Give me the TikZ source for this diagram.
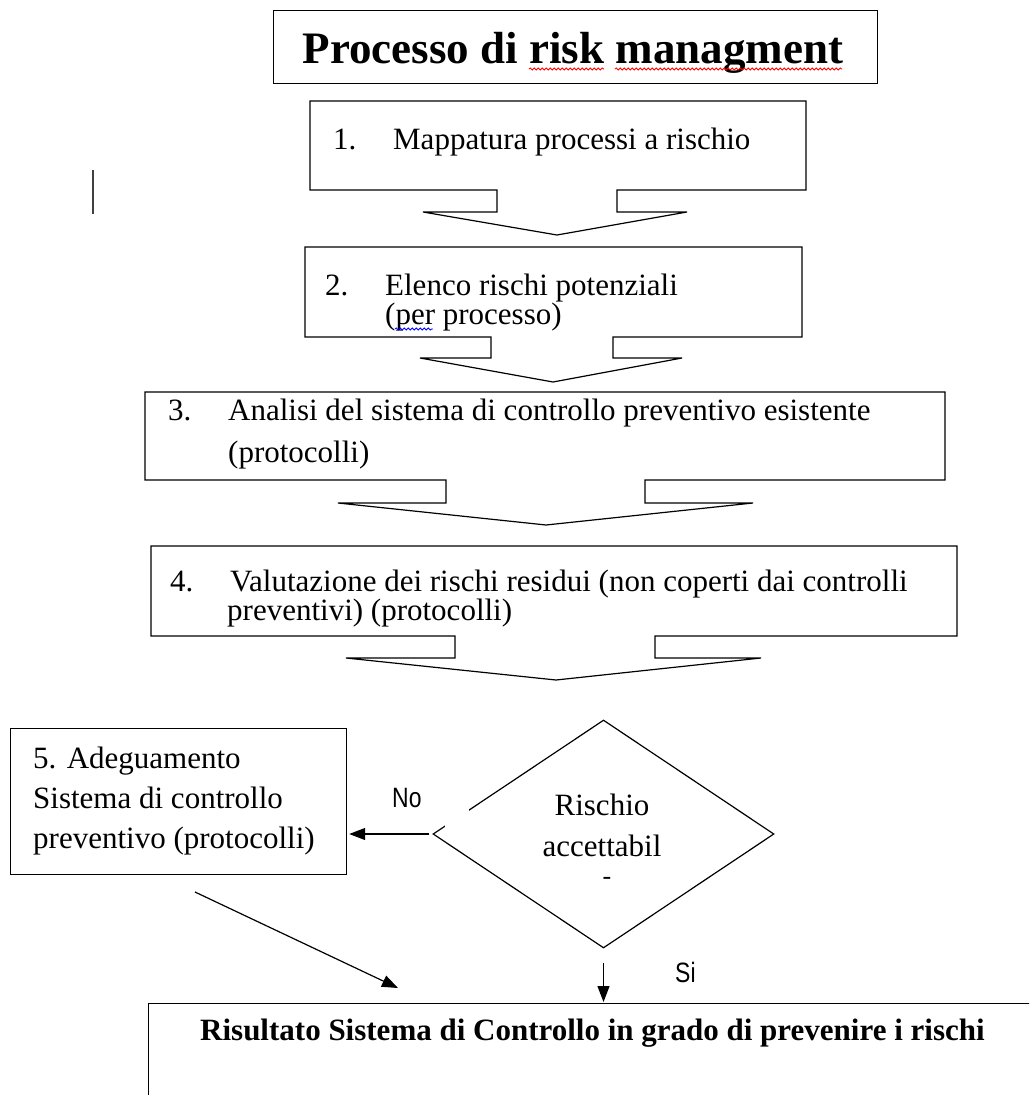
\documentclass[tikz,border=0pt]{standalone}
\usepackage{fontspec}
\setmainfont{Liberation Serif}
\setsansfont{Liberation Sans}
\usepackage{graphicx}
\usetikzlibrary{shapes.geometric,arrows.meta,decorations.pathmorphing}
\newcommand{\threeline}[4]{\vtop{\baselineskip=#1pt\hbox{#2}\hbox{#3}\hbox{#4}}}
\newcommand{\num}[1]{\makebox[60pt][l]{#1}}
\begin{document}
\begin{tikzpicture}[x=1pt,y=-1pt,
  every node/.style={font=\fontsize{31}{37}\selectfont, inner sep=0pt},
  shp/.style={draw, line width=1.2pt, line join=miter},
  arr/.style={line width=1.2pt, -{Triangle[length=16pt,width=12pt]}},
  txt/.style={anchor=base west},
  lab/.style={anchor=base west, font=\fontsize{28}{32}\selectfont\sffamily},
  squig/.style={line width=0.8pt, decorate, decoration={snake, amplitude=1.1pt, segment length=4pt}}]
\useasboundingbox (0,0) rectangle (1029,1095);
\clip (0,0) rectangle (1029,1095);

% title
\node[shp, anchor=north west, minimum width=604pt, minimum height=73pt] (title) at (273,10) {};
\node[anchor=base, font=\fontsize{45}{50}\selectfont\bfseries] (ttext) at (573,63) {Processo di risk managment};
\draw[squig, red] (529,69) -- (604,69);
\draw[squig, red] (615,69) -- (842,69);

% stray cursor line
\draw[line width=2pt, black!75] (93,170) -- (93,214);

% box 1
\draw[shp] (310,101) -- (806,101) -- (806,190) -- (617,190) -- (617,212) -- (687,212)
  -- (557,235) -- (423,212) -- (497,212) -- (497,190) -- (310,190) -- cycle;
\node[txt] (t1) at (333,149) {\num{1.}Mappatura processi a rischio};

% box 2
\draw[shp] (305,247) -- (802,247) -- (802,337) -- (613,337) -- (613,358) -- (682,358)
  -- (553,382) -- (420,358) -- (491,358) -- (491,337) -- (305,337) -- cycle;
\node[txt] (t2a) at (325,295) {\num{2.}Elenco rischi potenziali};
\begin{scope}
  \clip (320,300) rectangle (790,330);
  \node[txt] (t2b) at (385,324) {(per processo)};
\end{scope}
\draw[squig, blue] (395,329) -- (433,329);

% box 3
\draw[shp] (145,392) -- (945,392) -- (945,480) -- (645,480) -- (645,503) -- (753,503)
  -- (546,525) -- (338,503) -- (446,503) -- (446,480) -- (145,480) -- cycle;
\node[txt] (t3a) at (168,420) {\num{3.}Analisi del sistema di controllo preventivo esistente};
\begin{scope}
  \clip (160,430) rectangle (930,468);
  \node[txt] (t3b) at (228,462) {(protocolli)};
\end{scope}

% box 4
\draw[shp] (151,546) -- (957,546) -- (957,636) -- (655,636) -- (655,658) -- (761,658)
  -- (556,680) -- (346,658) -- (455,658) -- (455,636) -- (151,636) -- cycle;
\node[txt] (t4a) at (170,591) {\num{4.}Valutazione dei rischi residui (non coperti dai controlli};
\begin{scope}
  \clip (160,598) rectangle (940,626);
  \node[txt] (t4b) at (227,620) {preventivi) (protocolli)};
\end{scope}

% box 5
\node[shp, anchor=north west, minimum width=336pt, minimum height=146pt] (b5) at (10,728) {};
\node[txt] (t5) at (33,768) {\threeline{40}{5. Adeguamento}{Sistema di controllo}{preventivo (protocolli)}};

% decision
\node[shp, diamond, minimum width=341pt, minimum height=228pt] (dec) at (603.5,834) {};
\fill[white] (445,800) rectangle (469,830);
\node[anchor=base] (d1) at (602,815) {Rischio};
\node[anchor=base] (d2) at (602,856) {accettabil};
\node[anchor=base, font=\fontsize{26}{30}\selectfont] (d3) at (607,884) {-};
\node[lab] (no) at (392,807) {\scalebox{0.82}[1]{No}};
\node[lab] (si) at (675,982) {\scalebox{0.82}[1]{Si}};

% result box
\node[shp, anchor=north west, minimum width=920pt, minimum height=130pt] (res) at (148,1003) {};
\node[txt, font=\fontsize{31}{37}\selectfont\bfseries] (rt) at (200,1040) {Risultato Sistema di Controllo in grado di prevenire i rischi};

% connectors
\draw[arr] ([xshift=-3pt]dec.west) -- ([xshift=2pt]dec.west -| b5.east);
\draw[arr] ([yshift=-14pt]dec.south) -- ([yshift=1pt]dec.south |- res.north);
\coordinate (a0) at (195,892);
\coordinate (a1) at (398,988);
\draw[arr] (a0) -- (a1);
\end{tikzpicture}
\end{document}
